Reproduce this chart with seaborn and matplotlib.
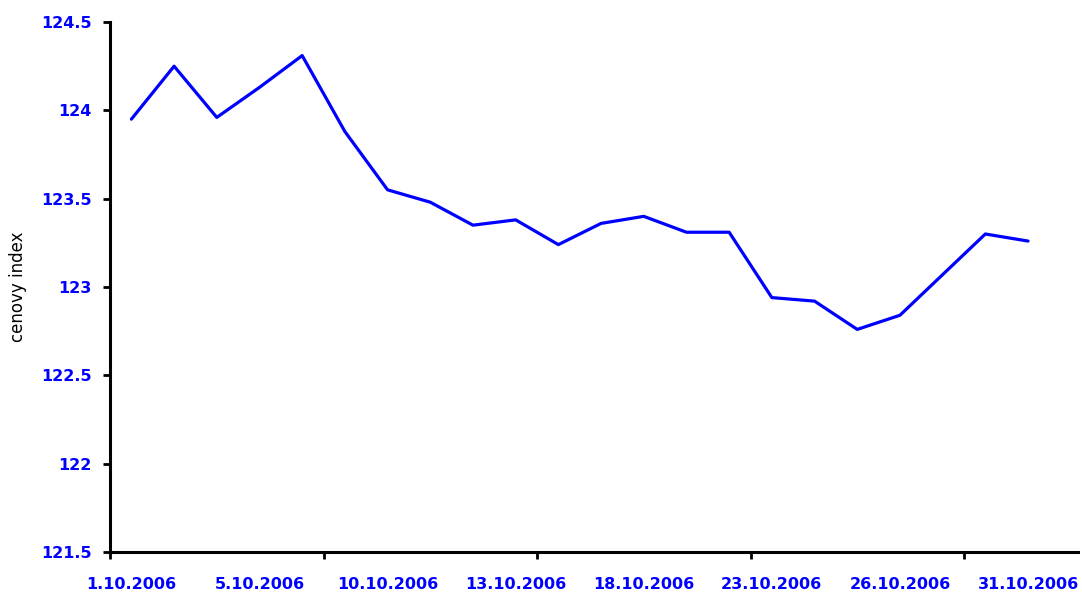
import numpy as np
import pandas as pd
import matplotlib
matplotlib.use("Agg")
import matplotlib.pyplot as plt
import seaborn as sns
from matplotlib.ticker import FormatStrFormatter, MultipleLocator, FixedLocator

# Trading days of October 2006 and the price index
dates = ["1.10.2006", "3.10.2006", "4.10.2006", "5.10.2006", "6.10.2006",
         "9.10.2006", "10.10.2006", "11.10.2006", "12.10.2006", "13.10.2006",
         "16.10.2006", "17.10.2006", "18.10.2006", "19.10.2006", "20.10.2006",
         "23.10.2006", "24.10.2006", "25.10.2006", "26.10.2006", "27.10.2006",
         "30.10.2006", "31.10.2006"]
index_values = [123.95, 124.25, 123.96, 124.13, 124.31, 123.88, 123.55, 123.48,
                123.35, 123.38, 123.24, 123.36, 123.40, 123.31, 123.31, 122.94,
                122.92, 122.76, 122.84, 123.07, 123.30, 123.26]

df = pd.DataFrame({"date": dates, "cenovy index": index_values})
df["pos"] = np.arange(len(df))

sns.set_style("white")
plt.rcParams["font.family"] = ["DejaVu Sans"]

fig = plt.figure(figsize=(10.82, 5.95), dpi=100)
ax = fig.add_axes([0.1017, 0.0723, 0.8946, 0.8907])

# Line chart of the price index
sns.lineplot(data=df, x="pos", y="cenovy index", color="#0000ff", linewidth=2.3, ax=ax)

ax.set_xlim(-0.5, 22.17)
ax.set_ylim(121.5, 124.5)

# y axis
ax.yaxis.set_major_locator(MultipleLocator(0.5))
ax.yaxis.set_major_formatter(FormatStrFormatter("%g"))
ax.tick_params(axis="y", direction="out", length=5, width=2, color="black",
               pad=8, labelsize=11.5, labelcolor="#0000ff", left=True)
for lab in ax.get_yticklabels():
    lab.set_fontweight("bold")
ax.set_ylabel("cenovy index", fontsize=12, color="black", labelpad=10)

# x axis: labels every third day, tick marks every fifth boundary
label_pos = df["pos"][::3].tolist()
ax.xaxis.set_major_locator(FixedLocator(label_pos))
ax.set_xticklabels(df["date"][::3], fontsize=11.5, fontweight="bold", color="#0000ff")
ax.tick_params(axis="x", which="major", length=0, pad=18)
ax.xaxis.set_minor_locator(FixedLocator([-0.5, 4.5, 9.5, 14.5, 19.5]))
ax.tick_params(axis="x", which="minor", direction="out", length=5, width=2,
               color="black", bottom=True)
ax.set_xlabel("")

for side in ["top", "right"]:
    ax.spines[side].set_visible(False)
for side in ["left", "bottom"]:
    ax.spines[side].set_color("black")
    ax.spines[side].set_linewidth(2.2)

fig.savefig("out.png", dpi=100, facecolor="white")
